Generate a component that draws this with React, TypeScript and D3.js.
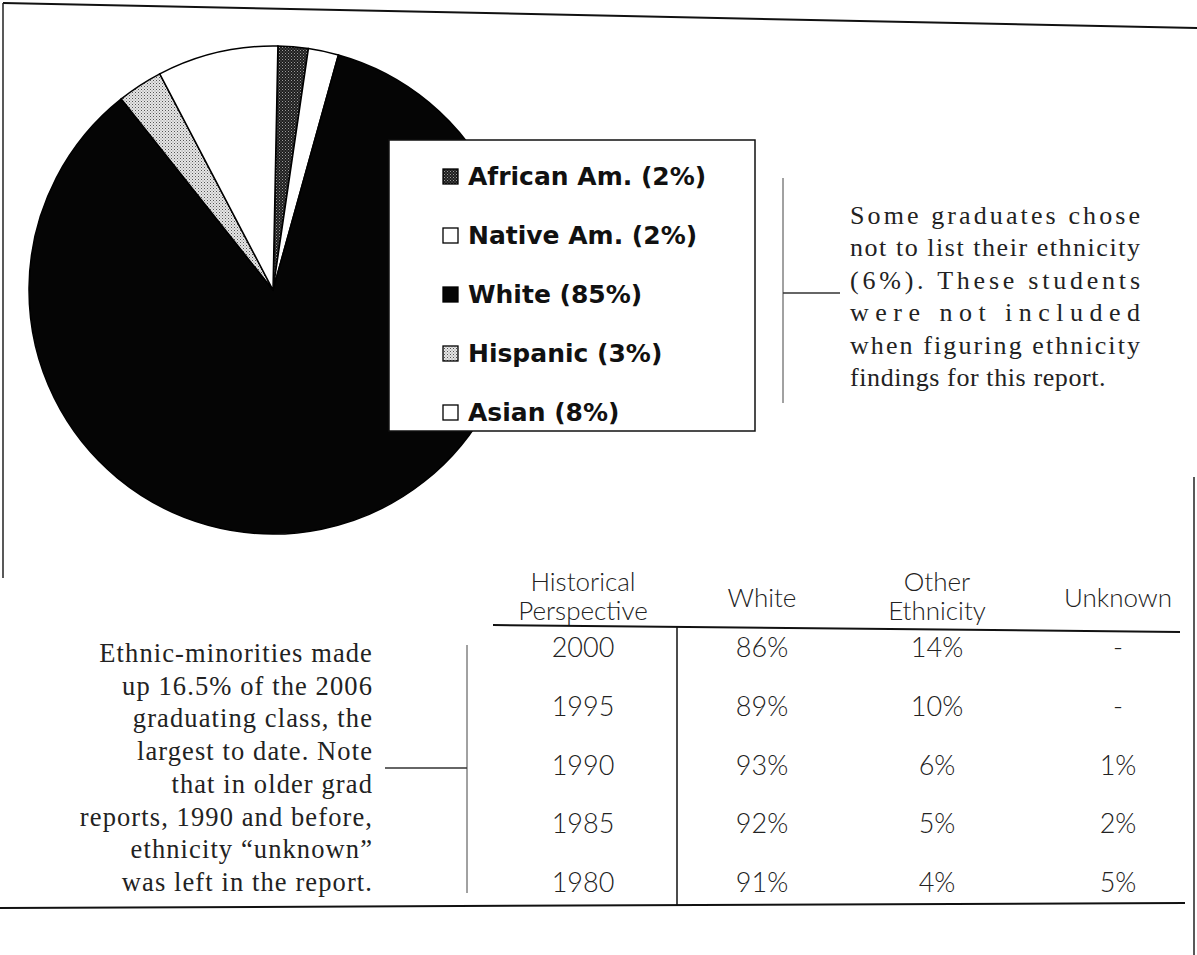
import React from "react";
import * as d3 from "d3";

const ethnicities = ["African Am.", "Native Am.", "White", "Hispanic", "Asian"];
const shares = [2, 2, 85, 3, 8];
const sliceFills = ["url(#darkDots)", "#ffffff", "#050505", "url(#lightDots)", "#ffffff"];

const years = ["2000", "1995", "1990", "1985", "1980"];
const whitePct = ["86%", "89%", "93%", "92%", "91%"];
const otherPct = ["14%", "10%", "6%", "5%", "4%"];
const unknownPct = ["-", "-", "1%", "2%", "5%"];
const tableColumns = ["year", "white", "other", "unknown"];
const tableHeaders = [["Historical", "Perspective"], ["White"], ["Other", "Ethnicity"], ["Unknown"]];

const rightNote = [
  "Some graduates chose",
  "not to list their ethnicity",
  "(6%). These students",
  "were not included",
  "when figuring ethnicity",
  "findings for this report.",
];
const leftNote = [
  "Ethnic-minorities made",
  "up 16.5% of the 2006",
  "graduating class, the",
  "largest to date. Note",
  "that in older grad",
  "reports, 1990 and before,",
  "ethnicity \u201cunknown\u201d",
  "was left in the report.",
];

const W = 1197;
const H = 955;

export default function App() {
  const cx = 273, cy = 290, r = 244;
  const pie = d3.pie<number>().sort(null).startAngle(0.02).endAngle(0.02 + Math.PI * 2);
  const arcs = pie(shares);
  const arcGen = d3.arc<d3.PieArcDatum<number>>().innerRadius(0).outerRadius(r);

  const legendY = d3.scalePoint<string>().domain(ethnicities).range([177, 413]);
  const rowY = d3.scalePoint<string>().domain(years).range([648, 883]);
  const colX = d3.scaleOrdinal<string, number>().domain(tableColumns).range([583, 762, 937, 1118]);
  const rightY = d3.scalePoint<string>().domain(rightNote).range([224, 386]);
  const leftY = d3.scalePoint<string>().domain(leftNote).range([662, 891]);

  const serif = "'Liberation Serif', 'Times New Roman', serif";
  const tableFont = "Lato, 'Open Sans', sans-serif";

  return (
    <svg width={W} height={H} style={{ position: "absolute", left: 0, top: 0, background: "#fff" }}>
      <defs>
        <pattern id="darkDots" width="3" height="3" patternUnits="userSpaceOnUse">
          <rect width="3" height="3" fill="#1e1e1e" />
          <rect x="0" y="0" width="1" height="1" fill="#9a9a9a" />
          <rect x="1.5" y="1.5" width="1" height="1" fill="#777" />
        </pattern>
        <pattern id="lightDots" width="3" height="3" patternUnits="userSpaceOnUse">
          <rect width="3" height="3" fill="#e6e6e6" />
          <rect x="0" y="0" width="1" height="1" fill="#555" />
          <rect x="1.5" y="1.5" width="1" height="1" fill="#888" />
        </pattern>
      </defs>
      <rect width={W} height={H} fill="#fff" />

      {/* frame */}
      <line x1={3} y1={3} x2={1197} y2={28} stroke="#111" strokeWidth={2} />
      <line x1={3} y1={3} x2={3} y2={578} stroke="#222" strokeWidth={1.5} />
      <line x1={1194} y1={477} x2={1194} y2={955} stroke="#222" strokeWidth={1.5} />
      <line x1={0} y1={908} x2={1185} y2={903} stroke="#111" strokeWidth={2} />

      {/* pie */}
      <g transform={`translate(${cx},${cy})`}>
        {arcs.map((a, i) => (
          <path key={ethnicities[i]} d={arcGen(a) || ""} fill={sliceFills[i]} stroke="#000" strokeWidth={1.5} />
        ))}
      </g>

      {/* legend */}
      <rect x={389} y={140} width={366} height={291} fill="#fff" stroke="#111" strokeWidth={1.5} />
      {ethnicities.map((e, i) => {
        const y = legendY(e) as number;
        return (
          <g key={e}>
            <rect x={443} y={y - 8} width={15} height={15} fill={sliceFills[i]} stroke="#000" strokeWidth={1.3} />
            <text x={468} y={y + 8} fontFamily="'DejaVu Sans', sans-serif" fontWeight="bold" fontSize={25} fill="#111">
              {`${e} (${shares[i]}%)`}
            </text>
          </g>
        );
      })}

      {/* right bracket and note */}
      <line x1={783} y1={178} x2={783} y2={403} stroke="#444" strokeWidth={1} />
      <line x1={783} y1={293} x2={840} y2={293} stroke="#333" strokeWidth={1.5} />
      {rightNote.map((t, i) => (
        <text
          key={t}
          x={850}
          y={rightY(t) as number}
          fontFamily={serif}
          fontSize={26}
          fill="#222"
          textLength={i < rightNote.length - 1 ? 290 : undefined}
          lengthAdjust="spacing"
          letterSpacing={i < rightNote.length - 1 ? undefined : 0.6}
        >
          {t}
        </text>
      ))}

      {/* left bracket and note */}
      <line x1={467} y1={645} x2={467} y2={893} stroke="#444" strokeWidth={1} />
      <line x1={385} y1={768} x2={467} y2={768} stroke="#333" strokeWidth={1.5} />
      {leftNote.map((t) => (
        <text key={t} x={373} y={leftY(t) as number} textAnchor="end" fontFamily={serif} fontSize={26.5} letterSpacing={1.1} fill="#222">
          {t}
        </text>
      ))}

      {/* table */}
      {tableHeaders.map((h, i) => {
        const x = colX(tableColumns[i]);
        return h.length === 2 ? (
          <g key={h.join(" ")}>
            <text x={x} y={591} textAnchor="middle" fontFamily={tableFont} fontWeight={300} fontSize={26} fill="#222">{h[0]}</text>
            <text x={x} y={620} textAnchor="middle" fontFamily={tableFont} fontWeight={300} fontSize={26} fill="#222">{h[1]}</text>
          </g>
        ) : (
          <text key={h[0]} x={x} y={607} textAnchor="middle" fontFamily={tableFont} fontWeight={300} fontSize={26} fill="#222">{h[0]}</text>
        );
      })}
      <line x1={493} y1={625} x2={1180} y2={632} stroke="#111" strokeWidth={2} />
      <line x1={677} y1={626} x2={677} y2={906} stroke="#111" strokeWidth={1.5} />
      {years.map((yr, i) => {
        const y = (rowY(yr) as number) + 9;
        const vals = [yr, whitePct[i], otherPct[i], unknownPct[i]];
        return (
          <g key={yr}>
            {vals.map((v, j) => (
              <text key={j} x={colX(tableColumns[j])} y={y} textAnchor="middle" fontFamily={tableFont} fontWeight={300} fontSize={27} fill="#222">
                {v}
              </text>
            ))}
          </g>
        );
      })}
    </svg>
  );
}
